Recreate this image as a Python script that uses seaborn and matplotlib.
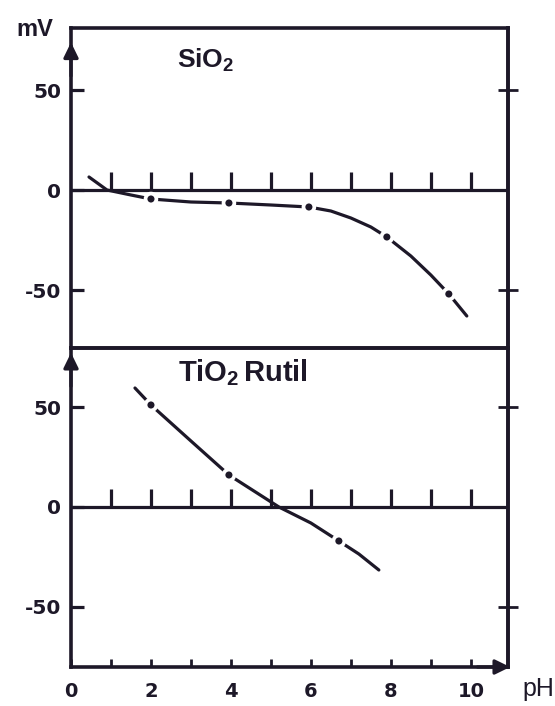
import matplotlib
matplotlib.use("Agg")
import matplotlib.pyplot as plt
import pandas as pd
import seaborn as sns

# ---- data -------------------------------------------------------------
ph_ticks = list(range(1, 11))
ph_labels = [0, 2, 4, 6, 8, 10]
mv_ticks = [-50, 0, 50]
mv_labels = ["-50", "0", "50"]

sio2_ph = [0.45, 0.9, 1.5, 2.0, 3.0, 3.95, 5.0, 5.95, 6.5, 7.0, 7.5, 7.9,
           8.5, 9.0, 9.45, 9.9]
sio2_mv = [6.5, 0.0, -2.5, -4.5, -6.0, -6.5, -7.5, -8.5, -10.5, -14.0, -18.5,
           -23.5, -33.0, -42.5, -52.0, -63.0]
sio2_measured = [False, False, False, True, False, True, False, True, False,
                 False, False, True, False, False, True, False]

tio2_ph = [1.6, 2.0, 3.0, 3.95, 5.2, 6.0, 6.7, 7.2, 7.7]
tio2_mv = [59.5, 51.0, 33.0, 16.0, 0.0, -8.0, -17.0, -23.5, -31.5]
tio2_measured = [False, True, False, True, False, False, True, False, False]

# ---- style ------------------------------------------------------------
sns.set_theme(style="white")
ink = "#1d1828"
plt.rcParams.update({
    "font.family": ["DejaVu Sans"],
    "mathtext.fontset": "custom",
    "mathtext.rm": "Liberation Sans:bold",
    "mathtext.it": "Liberation Sans:bold",
    "mathtext.bf": "Liberation Sans:bold",
})

W, H = 555, 706
fig = plt.figure(figsize=(W / 100, H / 100), dpi=100)
fig.patch.set_facecolor("white")

left, right = 71 / W, 508 / W
y_top, y_mid, y_bot = 1 - 28 / H, 1 - 348 / H, 1 - 667 / H
ax1 = fig.add_axes([left, y_mid, right - left, y_top - y_mid])
ax2 = fig.add_axes([left, y_bot, right - left, y_mid - y_bot], sharex=ax1)

ax1.set_xlim(0, 10.93)
ax1.set_ylim(-79, 81)
ax2.set_ylim(-80, 79.5)

panels = [
    (ax1, sio2_ph, sio2_mv, sio2_measured),
    (ax2, tio2_ph, tio2_mv, tio2_measured),
]

for ax, xs, ys, meas in panels:
    df = pd.DataFrame({"pH": xs, "mV": ys, "measured": meas})
    ax.patch.set_alpha(0)
    # zero line with its upward tick marks
    ax.axhline(0, color=ink, lw=2.3, zorder=2)
    ax.vlines(ph_ticks, 0, 9, color=ink, lw=2.3, zorder=2)
    # measured curve, broken around the data points
    sns.lineplot(data=df, x="pH", y="mV", ax=ax, color=ink, lw=2.3,
                 sort=False, estimator=None, zorder=3)
    pts = df[df["measured"]]
    sns.scatterplot(data=pts, x="pH", y="mV", ax=ax, s=110, color="white",
                    edgecolor="none", zorder=4)
    sns.scatterplot(data=pts, x="pH", y="mV", ax=ax, s=26, color=ink,
                    edgecolor="none", zorder=5)
    ax.set_xlabel("")
    ax.set_ylabel("")

    for sp in ax.spines.values():
        sp.set_color(ink)
        sp.set_linewidth(2.6)

    ax.set_yticks(mv_ticks, mv_labels)
    ax.tick_params(axis="y", left=True, right=False, direction="in",
                   length=9, width=2.3, color=ink, labelcolor=ink,
                   labelsize=14.5, pad=7)
    for lab in ax.get_yticklabels():
        lab.set_fontweight("bold")

    sec = ax.secondary_yaxis("right")
    sec.set_yticks([-50, 50])
    sec.set_yticklabels([])
    sec.tick_params(direction="inout", length=15, width=2.0, color=ink)
    sec.spines["right"].set_color(ink)
    sec.spines["right"].set_linewidth(2.6)

ax1.tick_params(axis="x", bottom=False, labelbottom=False, top=False)
ax2.set_xticks(ph_labels, [str(v) for v in ph_labels])
ax2.set_xticks(ph_ticks, minor=True)
ax2.tick_params(axis="x", which="both", bottom=True, top=False, direction="in",
                length=6, width=2.0, color=ink, labelcolor=ink, labelsize=14, pad=11)
for lab in ax2.get_xticklabels():
    lab.set_fontweight("bold")

# axis arrows
arrow = dict(arrowstyle="-|>,head_length=0.45,head_width=0.22", color=ink,
             lw=2.3, shrinkA=0, shrinkB=0, mutation_scale=20)
ax1.annotate("", xy=(0, 0.955), xytext=(0, 0.85), xycoords="axes fraction",
             arrowprops=arrow, annotation_clip=False)
ax2.annotate("", xy=(0, 0.985), xytext=(0, 0.88), xycoords="axes fraction",
             arrowprops=arrow, annotation_clip=False)
ax2.annotate("", xy=(1.005, 0), xytext=(0.93, 0), xycoords="axes fraction",
             arrowprops=arrow, annotation_clip=False)

# labels
fig.text(35 / W, 1 - 29 / H, "mV", ha="center", va="center", color=ink,
         fontsize=17, fontweight="bold", family=["Liberation Sans"])
fig.text(538 / W, 1 - 689 / H, "pH", ha="center", va="center", color=ink,
         fontsize=18, family=["Liberation Sans"])
fig.text(206 / W, 1 - 60 / H, r"$\mathrm{SiO_2}$", ha="center", va="center",
         color=ink, fontsize=19)
fig.text(243 / W, 1 - 373 / H, r"$\mathrm{TiO_2\,Rutil}$", ha="center",
         va="center", color=ink, fontsize=21)

fig.savefig("out.png", dpi=100, facecolor="white")
